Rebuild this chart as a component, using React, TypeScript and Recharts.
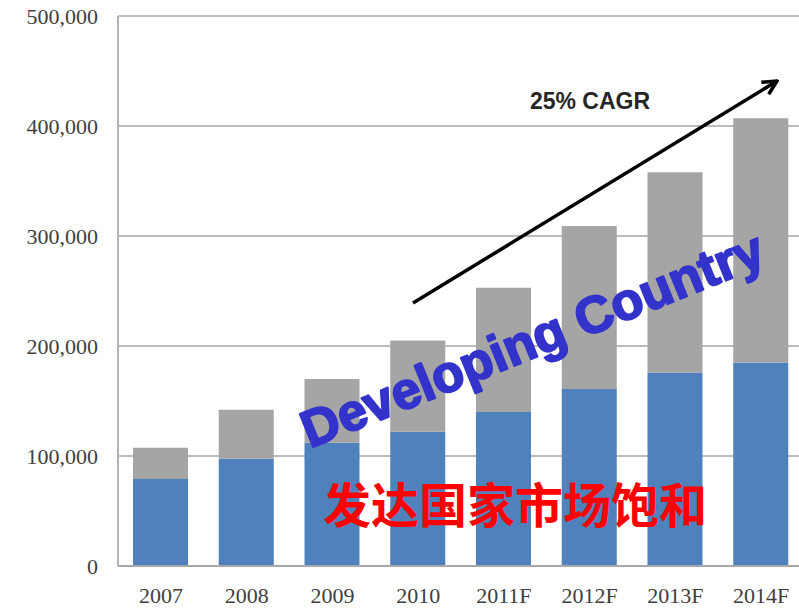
import React from "react";
import { Bar, BarChart, CartesianGrid, XAxis, YAxis } from "recharts";

const years = ["2007", "2008", "2009", "2010", "2011F", "2012F", "2013F", "2014F"];
const developed = [79000, 97500, 112000, 122000, 140000, 161000, 176000, 185000];
const developing = [28500, 44500, 58000, 83000, 113000, 148000, 182000, 222000];
const yTicks = [0, 100000, 200000, 300000, 400000, 500000];

const data = years.map((year, i) => ({
  year,
  developed: developed[i],
  developing: developing[i],
}));

const tickStyle = {
  fontFamily: "'Liberation Serif', serif",
  fontSize: 22,
  fill: "#404040",
};

export default function App() {
  return (
    <div
      style={{
        position: "absolute",
        left: 0,
        top: 0,
        width: 799,
        height: 613,
        overflow: "hidden",
        background: "#fff",
      }}
    >
      <BarChart
        width={804}
        height={613}
        data={data}
        margin={{ top: 16, right: 0, left: 0, bottom: 0 }}
        barSize={55}
      >
        <CartesianGrid stroke="#bcbcbc" strokeWidth={2} vertical={false} />
        <XAxis
          dataKey="year"
          height={47}
          tickLine={false}
          tickSize={0}
          tickMargin={21}
          stroke="#a8a8a8"
          strokeWidth={2}
          tick={tickStyle}
        />
        <YAxis
          width={118}
          domain={[0, 500000]}
          ticks={yTicks}
          tickLine={false}
          tickSize={0}
          tickMargin={20}
          stroke="#b4b4b4"
          strokeWidth={2}
          tick={tickStyle}
          tickFormatter={(v: number) => v.toLocaleString("en-US")}
        />
        <Bar dataKey="developed" stackId="a" fill="#4f81bd" isAnimationActive={false} />
        <Bar dataKey="developing" stackId="a" fill="#a5a5a5" isAnimationActive={false} />
      </BarChart>
      <svg
        width={799}
        height={613}
        style={{ position: "absolute", left: 0, top: 0, pointerEvents: "none" }}
      >
        <defs>
          <marker
            id="arrowHead"
            viewBox="0 0 10 10"
            refX="9"
            refY="5"
            markerWidth="5"
            markerHeight="5"
            orient="auto"
          >
            <path d="M1,1 L9,5 L1,9" fill="none" stroke="#000" strokeWidth={2} />
          </marker>
        </defs>
        <line
          x1={413}
          y1={303}
          x2={777}
          y2={81}
          stroke="#000"
          strokeWidth={3.5}
          markerEnd="url(#arrowHead)"
        />
        <text
          x={590}
          y={109}
          textAnchor="middle"
          fontFamily="'Liberation Sans', Arial, sans-serif"
          fontWeight="bold"
          fontSize={23}
          fill="#262626"
        >
          25% CAGR
        </text>
        <text
          x={539}
          y={356}
          textAnchor="middle"
          transform="rotate(-22 539 356)"
          fontFamily="'Liberation Sans', Arial, sans-serif"
          fontWeight="bold"
          fontSize={52}
          fill="#3333cc"
          stroke="#3333cc"
          strokeWidth={2}
          strokeLinejoin="round"
        >
          Developing Country
        </text>
        <text
          x={515}
          y={502}
          textAnchor="middle"
          dominantBaseline="central"
          fontFamily="'Noto Sans CJK SC', sans-serif"
          fontWeight="bold"
          fontSize={48}
          fill="#ff0000"
        >
          发达国家市场饱和
        </text>
      </svg>
    </div>
  );
}
